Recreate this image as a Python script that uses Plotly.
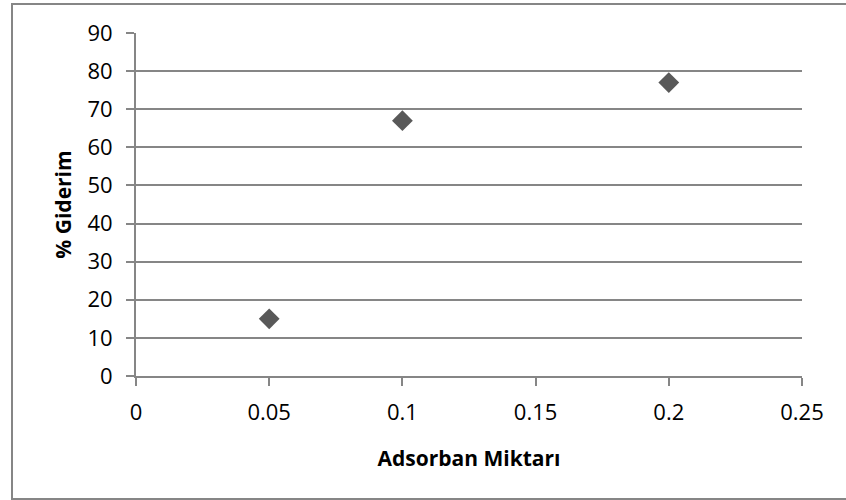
import plotly.graph_objects as go

x_vals = [0.05, 0.1, 0.2]
y_vals = [15, 67, 77]
x_ticks = [0, 0.05, 0.1, 0.15, 0.2, 0.25]
x_tick_labels = ["0", "0.05", "0.1", "0.15", "0.2", "0.25"]
y_ticks = [0, 10, 20, 30, 40, 50, 60, 70, 80, 90]
x_title = "Adsorban Miktarı"
y_title = "% Giderim"

W, H = 846, 500
L, R, T, B = 136, 44, 33, 124
pw, ph = W - L - R, H - T - B

fig = go.Figure()
fig.add_trace(go.Scatter(
    x=x_vals, y=y_vals, mode="markers",
    marker=dict(symbol="diamond", size=16, color="#595959", line=dict(width=0)),
    showlegend=False, hoverinfo="skip"))

font = dict(family="Open Sans", color="#000000")
fig.update_layout(
    width=W, height=H,
    margin=dict(l=L, r=R, t=T, b=B, pad=0),
    paper_bgcolor="white", plot_bgcolor="white",
    xaxis=dict(range=[0, 0.25], tickvals=x_ticks, ticktext=x_tick_labels,
               showgrid=False, zeroline=False, showline=True, linecolor="#868686",
               linewidth=2, ticks="outside", ticklen=8, tickwidth=2, tickcolor="#868686",
               tickfont=dict(size=22, **font), ticklabelstandoff=8,
               title=dict(text="<b>" + x_title + "</b>", font=dict(size=21, **font), standoff=26)),
    yaxis=dict(range=[0, 90], tickvals=y_ticks, showgrid=True, gridcolor="#868686",
               gridwidth=2, zeroline=False, showline=True, linecolor="#868686",
               linewidth=2, ticks="outside", ticklen=8, tickwidth=2, tickcolor="#868686",
               tickfont=dict(size=22, **font), ticklabelstandoff=9,
               title=dict(text="<b>" + y_title + "</b>", font=dict(size=21, **font), standoff=10)),
)
fig.add_shape(type="rect", xref="paper", yref="paper",
              x0=(12 - L) / pw, x1=(W + 20 - L) / pw,
              y0=(T + ph - 499) / ph, y1=(T + ph - 4) / ph,
              line=dict(color="#868686", width=2), layer="below")
fig.write_html("out.html")
